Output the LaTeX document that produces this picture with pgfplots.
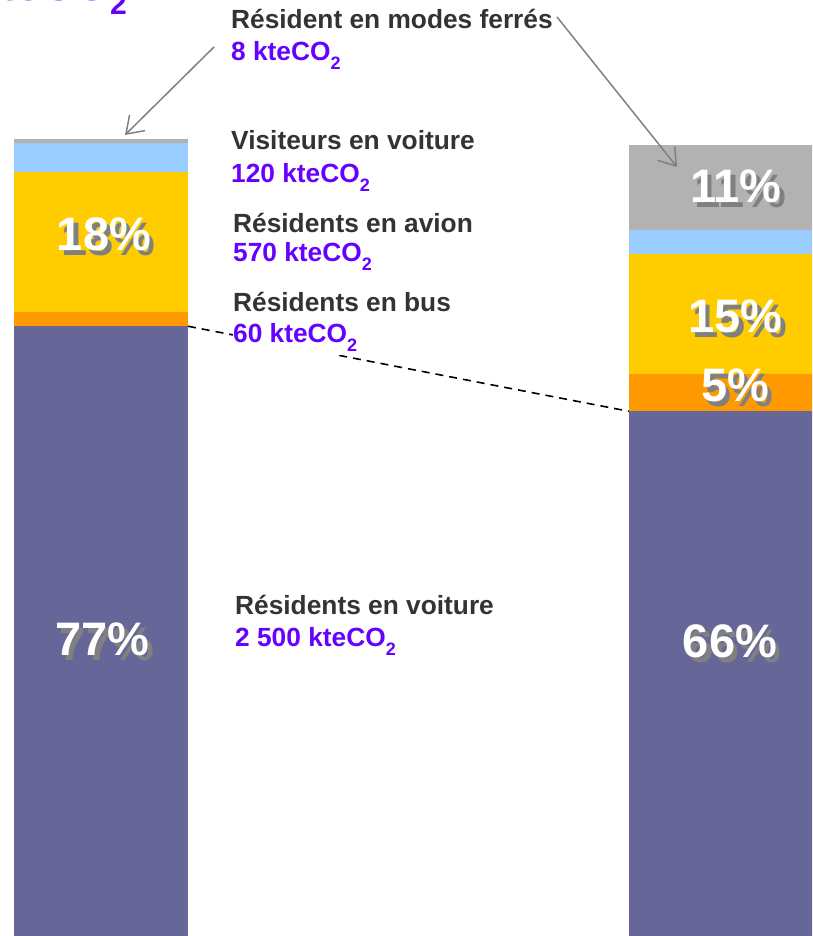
\documentclass[border=0pt]{standalone}
\usepackage{pgfplots}
\pgfplotsset{compat=1.18}
\usepackage{fontspec}
\setmainfont{Liberation Sans}
\usetikzlibrary{arrows.meta}

\definecolor{voiture}{HTML}{666699}
\definecolor{bus}{HTML}{FF9900}
\definecolor{avion}{HTML}{FFCC00}
\definecolor{visiteurs}{HTML}{99CCFF}
\definecolor{ferres}{HTML}{B2B2B2}
\definecolor{valeur}{HTML}{6600FF}
\definecolor{libelle}{HTML}{333333}
\definecolor{ombre}{HTML}{808080}

\newcommand{\lab}{\fontsize{26.3}{30}\selectfont\bfseries}
\newcommand{\pctfont}{\fontsize{47}{50}\selectfont\bfseries}
\newcommand{\co}{CO\raisebox{-8.5pt}{\fontsize{18}{18}\selectfont 2}}
% percentage label with its grey shadow: x, y (baseline), text
\newcommand{\pct}[3]{%
  \node[anchor=base, inner sep=0, text=ombre, font=\pctfont] at ({#1+4.5},{#2-4.5}) {#3};
  \node[anchor=base, inner sep=0, text=white, font=\pctfont] at (#1,#2) {#3};}

\pgfplotsset{barre/.style={
    scale only axis, width=812pt, height=936pt,
    at={(0,0)}, anchor=south west,
    xmin=0, xmax=812, ymin=0, ymax=117.74,
    enlargelimits=false, hide axis, clip=false,
    ybar stacked, bar width=#1}}

\begin{document}
\begin{tikzpicture}[x=1pt,y=1pt]
\useasboundingbox (0,0) rectangle (812,936);
\clip (0,0) rectangle (812,936);

% left bar (shares in %)
\begin{axis}[barre=174]
\addplot[fill=voiture, draw=none] coordinates {(101,76.7)};
\addplot[fill=bus, draw=none] coordinates {(101,1.8)};
\addplot[fill=avion, draw=none] coordinates {(101,17.6)};
\addplot[fill=visiteurs, draw=none] coordinates {(101,3.65)};
\addplot[fill=ferres, draw=none] coordinates {(101,0.5)};
\draw[black, line width=1.6pt, dash pattern=on 8pt off 6pt]
  (axis cs:188,76.7) -- (axis cs:629,66.0);
\end{axis}

% right bar
\begin{axis}[barre=214]
\addplot[fill=voiture, draw=none] coordinates {(736,66.0)};
\addplot[fill=bus, draw=none] coordinates {(736,4.65)};
\addplot[fill=avion, draw=none] coordinates {(736,15.2)};
\addplot[fill=visiteurs, draw=none] coordinates {(736,3.0)};
\addplot[fill=ferres, draw=none] coordinates {(736,10.7)};
\end{axis}

% title, cut by the top edge
\node[anchor=base east, inner sep=0, text=valeur, font=\fontsize{46}{50}\selectfont\bfseries]
  at (127,935) {3 260 kteCO\raisebox{-14pt}{\fontsize{30}{30}\selectfont 2}};

% arrows to the rail share
\draw[ombre, line width=1.5pt, -{Straight Barb[length=16pt,width=22pt]}] (214,889) -- (125,801);
\draw[ombre, line width=1.5pt, -{Straight Barb[length=16pt,width=22pt]}] (557,919) -- (677,769);

% labels
\node[anchor=base west, inner sep=0, text=libelle, font=\lab] at (231,907) {Résident en modes ferrés};
\node[anchor=base west, inner sep=0, text=valeur, font=\lab] at (231,875) {8 kte\co};
\node[anchor=base west, inner sep=0, text=libelle, font=\lab] at (231,786) {Visiteurs en voiture};
\node[anchor=base west, inner sep=0, text=valeur, font=\lab] at (231,753) {120 kte\co};
\node[anchor=base west, inner sep=0, text=libelle, font=\lab] at (233,703) {Résidents en avion};
\node[anchor=base west, inner sep=0, text=valeur, font=\lab] at (233,674) {570 kte\co};
\node[anchor=base west, inner sep=0, text=libelle, font=\lab] at (233,624) {Résidents en bus};
\node[anchor=base west, inner sep=0, text depth=12pt, text=valeur, fill=white, font=\lab] at (233,593) {60 kte\co};
\node[anchor=base west, inner sep=0, text=libelle, font=\lab] at (235,321) {Résidents en voiture};
\node[anchor=base west, inner sep=0, text=valeur, font=\lab] at (235,289) {2 500 kte\co};

% percentages
\pct{104}{685}{18\%}
\pct{102.5}{280}{77\%}
\pct{736}{733}{11\%}
\pct{735.5}{603}{15\%}
\pct{735}{534}{5\%}
\pct{730}{278}{66\%}
\end{tikzpicture}
\end{document}
